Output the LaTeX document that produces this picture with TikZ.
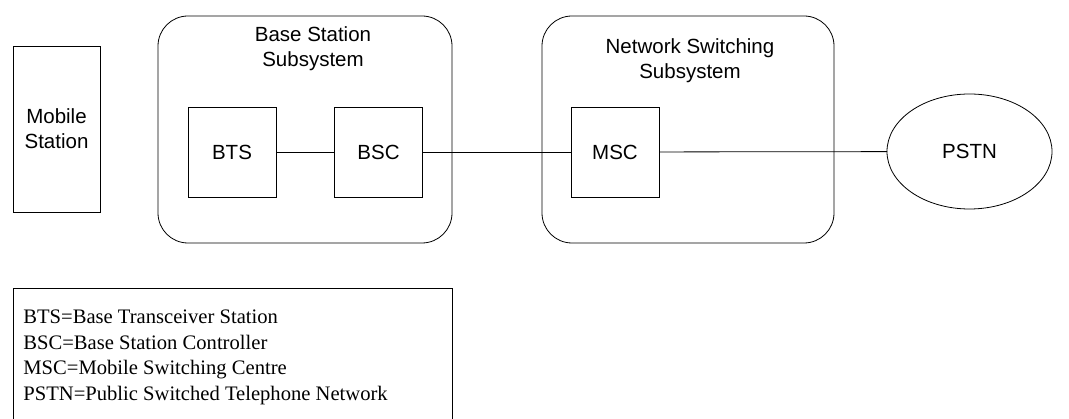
\documentclass[tikz,border=0pt]{standalone}
\usepackage{fontspec}
\setmainfont{Liberation Serif}
\setsansfont{Liberation Sans}
\usetikzlibrary{shapes.geometric}
\begin{document}
\begin{tikzpicture}[x=1pt,y=-1pt,
  line width=0.8pt,
  sanslabel/.style={font=\sffamily\fontsize{20.5}{25}\selectfont, align=center, inner sep=0pt},
  unitbox/.style={draw, rectangle, minimum width=88pt, minimum height=90pt, inner sep=0pt, outer sep=0pt,
                  font=\sffamily\fontsize{20.5}{25}\selectfont, align=center},
  subsys/.style={draw, rectangle, rounded corners=30pt, minimum width=294pt, minimum height=227pt,
                 inner sep=0pt, outer sep=0pt},
  link/.style={draw}]
\useasboundingbox (0,0) rectangle (1069,419);
\clip (0,0) rectangle (1069,419);

% Mobile station
\node[draw, rectangle, minimum width=87pt, minimum height=166pt, inner sep=0pt, outer sep=0pt,
      font=\sffamily\fontsize{20.5}{25}\selectfont, align=center] (ms) at (56.5,129) {Mobile\\Station};

% Base station subsystem
\node[subsys] (bss) at (305,129.5) {};
\node[sanslabel] (bsstitle) at (313,48.5) {Base Station\\Subsystem};
\node[unitbox] (bts) at (232,152) {BTS};
\node[unitbox] (bsc) at (378.5,152) {BSC};

% Network switching subsystem
\node[subsys, minimum width=292pt] (nss) at (688,129.5) {};
\node[sanslabel] (nsstitle) at (690,61) {Network Switching\\Subsystem};
\node[unitbox] (msc) at (615,152) {MSC};

% Public network
\node[draw, ellipse, minimum width=165pt, minimum height=115pt, inner sep=0pt, outer sep=0pt,
      font=\sffamily\fontsize{20.5}{25}\selectfont] (pstn) at (969.5,151.5) {PSTN};

% Links
\draw[link] (bts) -- (bsc);
\draw[link] (bsc) -- (msc);
\draw[link] (msc) -- (pstn);

% Legend (the anchor sits on the baseline of the last line)
\node[draw, rectangle, anchor=north west, minimum width=439pt, minimum height=160pt,
      inner sep=0pt, outer sep=0pt] (legendbox) at (13,288) {};
\node[anchor=base west, align=left, inner sep=0pt,
      font=\rmfamily\fontsize{20.6}{25.5}\selectfont] (legend) at (23,400.5)
  {BTS=Base Transceiver Station\\
   BSC=Base Station Controller\\
   MSC=Mobile Switching Centre\\
   PSTN=Public Switched Telephone Network};
\end{tikzpicture}
\end{document}
